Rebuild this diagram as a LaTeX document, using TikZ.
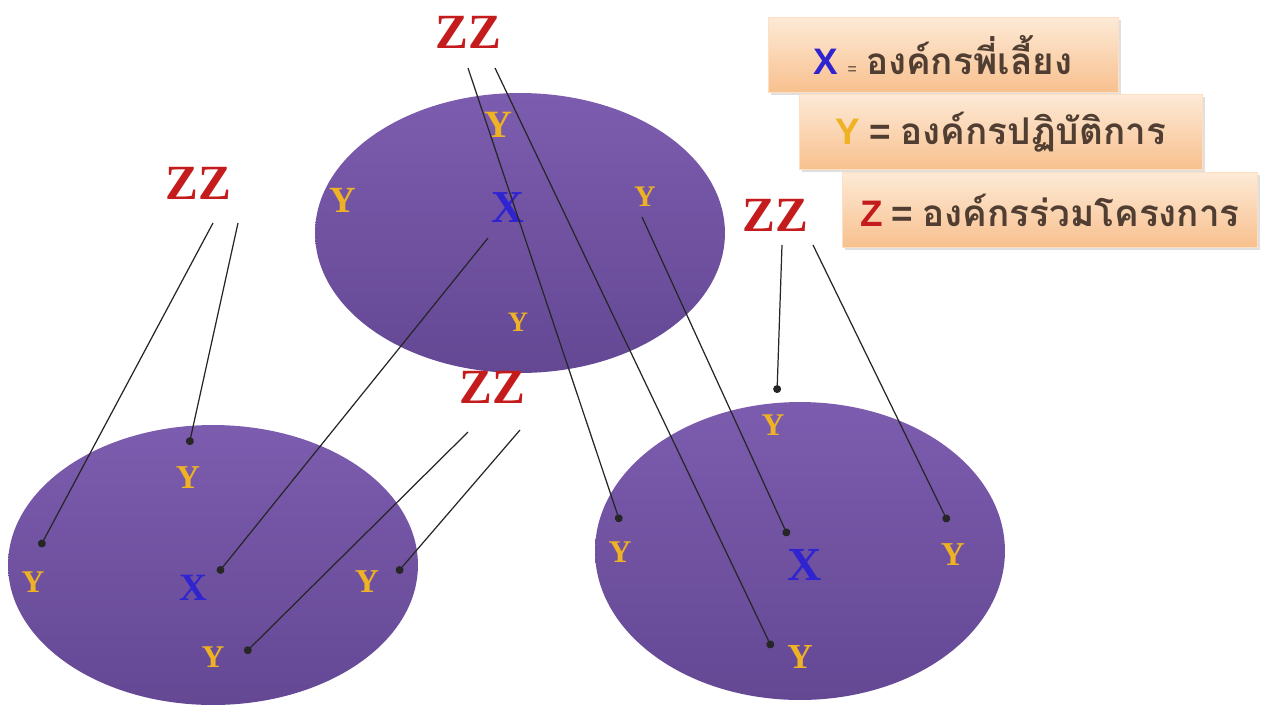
\documentclass[tikz,border=0pt]{standalone}
\usepackage{fontspec}
\setmainfont{Liberation Serif}
\newfontfamily\thaifont[Script=Thai]{Loma}
\newfontfamily\legendfont{Liberation Sans}
\usetikzlibrary{shapes.geometric, arrows.meta, shadows}
\definecolor{orgpurple}{RGB}{124, 92, 174}
\definecolor{orgpurpledark}{RGB}{100, 72, 148}
\definecolor{zzred}{RGB}{196, 28, 28}
\definecolor{ygold}{RGB}{238, 178, 36}
\definecolor{xblue}{RGB}{48, 36, 208}
\definecolor{legtop}{RGB}{253, 234, 214}
\definecolor{legbot}{RGB}{248, 192, 142}
\definecolor{legtext}{RGB}{80, 62, 50}

\begin{document}
\begin{tikzpicture}[x=0.02cm, y=-0.02cm,
  org/.style={ellipse, minimum width=8.2cm, minimum height=5.6cm, inner sep=0pt, top color=orgpurple, bottom color=orgpurpledark},
  zz/.style={text=zzred, font=\bfseries\fontsize{28}{28}\selectfont},
  ylab/.style={text=ygold, inner sep=0pt, font=\bfseries\fontsize{#1}{#1}\selectfont},
  ylab/.default=18,
  xlab/.style={text=xblue, inner sep=0pt, font=\bfseries\fontsize{#1}{#1}\selectfont},
  xlab/.default=24,
  link/.style={-{Circle[length=4.5pt]}, line width=0.7pt, black!85},
  legbox/.style={draw=orange!25, top color=legtop, bottom color=legbot, minimum height=1.5cm, inner sep=0pt,
    text=legtext, font=\fontsize{21}{21}\selectfont, drop shadow={opacity=0.25, shadow xshift=1.5pt, shadow yshift=-1.5pt}}
]
  \useasboundingbox (0,0) rectangle (1265,704);

  % the three organisations
  \node[org] (orgTop) at (520,233) {};
  \node[org] (orgLeft) at (213,565) {};
  \node[org, minimum height=5.96cm] (orgRight) at (800,551) {};

  \node[ylab=22] (yT1) at (498,125) {Y};
  \node[ylab=21] (yT2) at (343,200) {Y};
  \node[xlab=26] (xT) at (508,208) {X};
  \node[ylab=17] (yT3) at (645,197) {Y};
  \node[ylab=16] (yT4) at (518,322) {Y};

  \node[ylab=19] (yL1) at (188,478) {Y};
  \node[ylab=18] (yL2) at (33,582) {Y};
  \node[xlab=22] (xL) at (193,588) {X};
  \node[ylab=19] (yL3) at (367,582) {Y};
  \node[ylab=18] (yL4) at (213,657) {Y};

  \node[ylab=18] (yR1) at (773,425) {Y};
  \node[ylab=18] (yR2) at (620,552) {Y};
  \node[xlab=27] (xR) at (805,565) {X};
  \node[ylab=19] (yR3) at (953,555) {Y};
  \node[ylab=20] (yR4) at (800,657) {Y};

  \node[zz] (zzTop) at (468,32) {ZZ};
  \node[zz] (zzLeft) at (198,183) {ZZ};
  \node[zz] (zzMid) at (492,387) {ZZ};
  \node[zz] (zzRight) at (775,215) {ZZ};

  % legend
  \node[legbox, minimum width=7cm] (legX) at (943,55) {{\legendfont\bfseries\textcolor{xblue}{X}} {\legendfont\small =} {\thaifont\bfseries องค์กรพี่เลี้ยง}};
  \node[legbox, minimum width=8.06cm] (legY) at (1001,132) {{\legendfont\bfseries\textcolor{ygold}{Y}} {\legendfont\bfseries =} {\thaifont\bfseries องค์กรปฏิบัติการ}};
  \node[legbox, minimum width=8.3cm] (legZ) at (1050,210) {{\legendfont\bfseries\textcolor{zzred}{Z}} {\legendfont\bfseries =} {\thaifont\bfseries องค์กรร่วมโครงการ}};

  % link ends
  \coordinate (sL1) at (213,223);  \coordinate (eL1) at (40,547);
  \coordinate (sL2) at (238,223);  \coordinate (eL2) at (189,445);
  \coordinate (sT1) at (468,68);   \coordinate (eT1) at (620,522);
  \coordinate (sT2) at (495,68);   \coordinate (eT2) at (772,648);
  \coordinate (sX) at (488,238);   \coordinate (eX) at (218,573);
  \coordinate (sY) at (642,217);   \coordinate (eY) at (788,536);
  \coordinate (sM1) at (468,432);  \coordinate (eM1) at (245,653);
  \coordinate (sM2) at (520,430);  \coordinate (eM2) at (397,573);
  \coordinate (sR1) at (782,245);  \coordinate (eR1) at (777,393);
  \coordinate (sR2) at (813,245);  \coordinate (eR2) at (948,522);

  \draw[link] (sL1) -- (eL1);
  \draw[link] (sL2) -- (eL2);
  \draw[link] (sT1) -- (eT1);
  \draw[link] (sT2) -- (eT2);
  \draw[link] (sX) -- (eX);
  \draw[link] (sY) -- (eY);
  \draw[link] (sM1) -- (eM1);
  \draw[link] (sM2) -- (eM2);
  \draw[link] (sR1) -- (eR1);
  \draw[link] (sR2) -- (eR2);
\end{tikzpicture}
\end{document}
